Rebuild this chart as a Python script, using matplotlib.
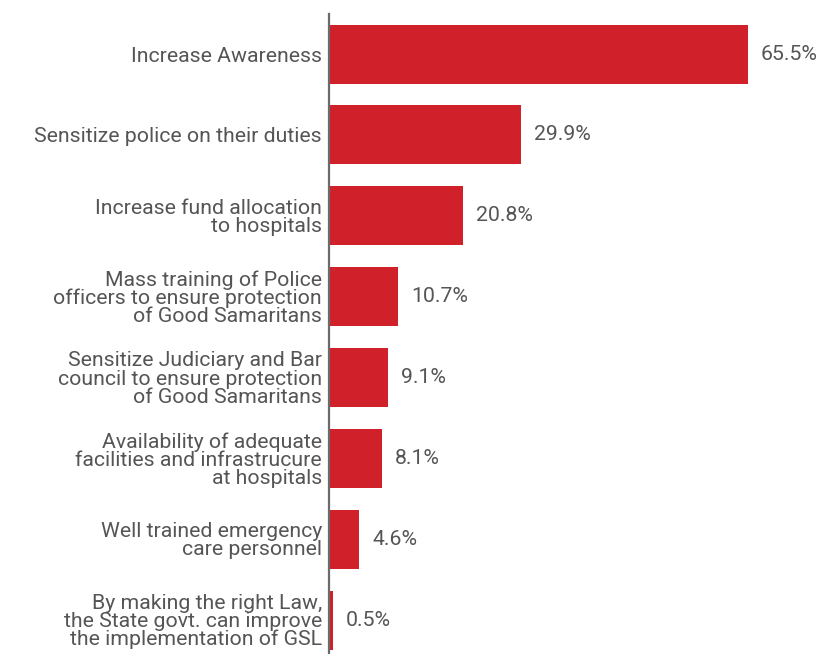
import matplotlib.pyplot as plt

# Suggestions for improving Good Samaritan protection (share of respondents, %)
categories = [
    "Increase Awareness",
    "Sensitize police on their duties",
    "Increase fund allocation\nto hospitals",
    "Mass training of Police\nofficers to ensure protection\nof Good Samaritans",
    "Sensitize Judiciary and Bar\ncouncil to ensure protection\nof Good Samaritans",
    "Availability of adequate\nfacilities and infrastrucure\nat hospitals",
    "Well trained emergency\ncare personnel",
    "By making the right Law,\nthe State govt. can improve\nthe implementation of GSL",
]
values = [65.5, 29.9, 20.8, 10.7, 9.1, 8.1, 4.6, 0.5]

plt.rcParams['font.family'] = ['Roboto', 'DejaVu Sans']
text_color = '#555555'
bar_color = '#d0212a'

fig = plt.figure(figsize=(8.19, 6.54), dpi=100)
ax = fig.add_axes([329 / 819, 0, 1 - 329 / 819, 1 - 14 / 654])

y = list(range(len(values)))
ax.barh(y, values, height=0.73, color=bar_color, left=0.15)

for yi, v in zip(y, values):
    ax.text(v + 2.2, yi, f"{v}%", va='center', ha='left',
            fontsize=15.3, color=text_color)

ax.set_yticks(y)
ax.set_yticklabels(categories, fontsize=15.3, color=text_color, linespacing=0.94)
ax.tick_params(axis='y', length=0, pad=5)
ax.set_xticks([])

ax.set_ylim(7.42, -0.495)
ax.set_xlim(0, 76.8)

for side in ['top', 'right', 'bottom']:
    ax.spines[side].set_visible(False)
ax.spines['left'].set_color('#6b6b6b')
ax.spines['left'].set_linewidth(1.6)

fig.savefig('out.png', dpi=100)
